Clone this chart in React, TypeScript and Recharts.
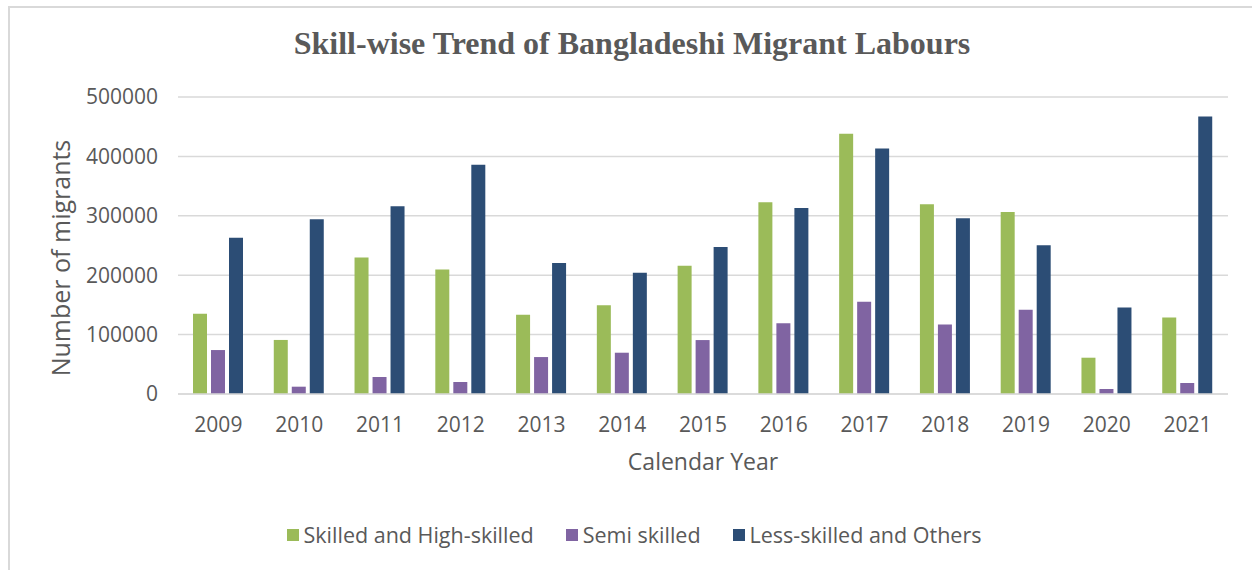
import { Bar, BarChart, CartesianGrid, Label, XAxis, YAxis } from "recharts";

const YEARS = ["2009", "2010", "2011", "2012", "2013", "2014", "2015", "2016", "2017", "2018", "2019", "2020", "2021"];
const SKILLED = [135000, 91000, 230000, 209500, 133300, 149600, 215700, 322700, 438100, 319300, 306400, 61100, 128900];
const SEMI = [74000, 12300, 28600, 20200, 62200, 69500, 90800, 119300, 155200, 117100, 141700, 8400, 18500];
const LESS = [263000, 294000, 316000, 386000, 220700, 204000, 247600, 313200, 413400, 295800, 250400, 145700, 467200];
const Y_TICKS = [0, 100000, 200000, 300000, 400000, 500000];

const SERIES = [
  { key: "skilled", name: "Skilled and High-skilled", color: "#9BBB59" },
  { key: "semi", name: "Semi skilled", color: "#8064A2" },
  { key: "less", name: "Less-skilled and Others", color: "#2C4D75" },
];

const FONT = "'Open Sans', 'Noto Sans', sans-serif";
const TEXT = "#595959";

const data = YEARS.map((year, i) => ({
  year,
  skilled: SKILLED[i],
  semi: SEMI[i],
  less: LESS[i],
}));

// legend drawn outside the chart so it doesn't eat plot height
function ChartLegend() {
  return (
    <div
      style={{
        position: "absolute",
        top: 521,
        left: 0,
        width: 1268,
        display: "flex",
        justifyContent: "center",
        gap: 32,
        fontFamily: FONT,
        fontSize: 21.5,
        lineHeight: "28px",
        color: TEXT,
      }}
    >
      {SERIES.map((s) => (
        <div key={s.key} style={{ display: "flex", alignItems: "center" }}>
          <span
            style={{
              display: "inline-block",
              width: 12,
              height: 12,
              background: s.color,
              marginRight: 5,
            }}
          />
          {s.name}
        </div>
      ))}
    </div>
  );
}

export default function App() {
  return (
    <div style={{ position: "absolute", left: 0, top: 0, width: 1252, height: 570, background: "#fff", overflow: "hidden" }}>
      <BarChart
        width={1252}
        height={570}
        data={data}
        margin={{ top: 97, right: 24, bottom: 146, left: 0 }}
        barSize={14}
        barGap={4}
        style={{ position: "absolute", left: 0, top: 0 }}
      >
        <CartesianGrid vertical={false} stroke="#d9d9d9" strokeWidth={1.5} />
        <XAxis
          dataKey="year"
          height={30}
          axisLine={{ stroke: "#d9d9d9", strokeWidth: 1.5 }}
          tickLine={false}
          tickSize={8}
          tickMargin={15}
          tick={{ fontFamily: FONT, fontSize: 21, fill: TEXT }}
        >
          <Label
            value="Calendar Year"
            position="bottom"
            offset={30}
            style={{ fontFamily: FONT, fontSize: 23, fill: TEXT }}
          />
        </XAxis>
        <YAxis
          width={178}
          domain={[0, 500000]}
          ticks={Y_TICKS}
          axisLine={false}
          tickLine={false}
          tickSize={8}
          tickMargin={12}
          tick={{ fontFamily: FONT, fontSize: 21, fill: TEXT }}
        />
        {SERIES.map((s) => (
          <Bar key={s.key} dataKey={s.key} name={s.name} fill={s.color} isAnimationActive={false} />
        ))}
      </BarChart>
      <div
        style={{
          position: "absolute",
          left: 60,
          top: 258,
          transform: "translate(-50%, -50%) rotate(-90deg)",
          whiteSpace: "nowrap",
          fontFamily: FONT,
          fontSize: 25,
          color: TEXT,
        }}
      >
        Number of migrants
      </div>
      <div
        style={{
          position: "absolute",
          top: 25,
          left: 0,
          width: 1264,
          textAlign: "center",
          fontFamily: "'Liberation Serif', 'DejaVu Serif', serif",
          fontWeight: "bold",
          fontSize: 32,
          color: TEXT,
        }}
      >
        Skill-wise Trend of Bangladeshi Migrant Labours
      </div>
      <ChartLegend />
      <div
        style={{
          position: "absolute",
          left: 8,
          top: 6,
          width: 1300,
          height: 600,
          border: "2px solid #d9d9d9",
          boxSizing: "border-box",
          pointerEvents: "none",
        }}
      />
    </div>
  );
}
